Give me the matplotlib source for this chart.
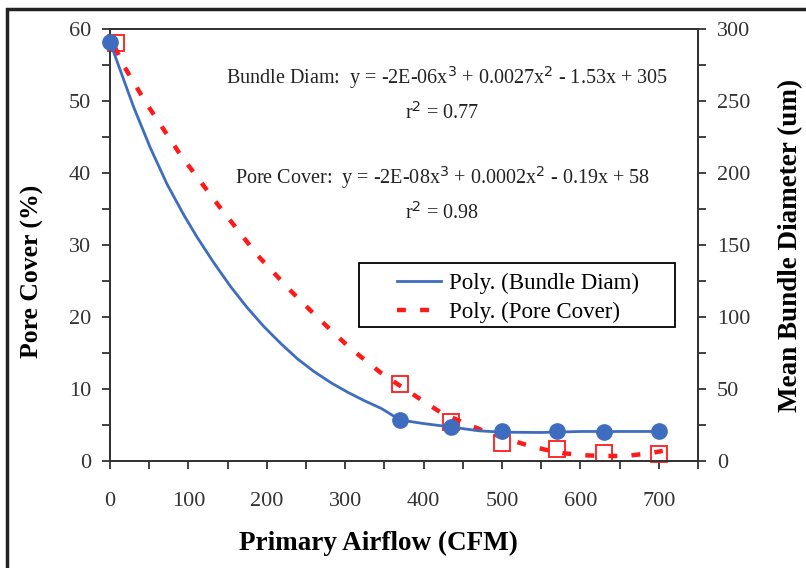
import numpy as np
import matplotlib.pyplot as plt
from matplotlib.patches import Rectangle

plt.rcParams['font.family'] = ['Liberation Serif', 'DejaVu Serif']

# measured points
bundle_x = [0, 370, 435, 500, 570, 630, 700]
bundle_y = [291, 28.5, 23.6, 20.8, 21, 20, 21]          # um, right axis
pore_x = [8, 370, 435, 500, 570, 630, 700]
pore_y = [58.1, 10.7, 5.4, 2.5, 1.7, 1.05, 0.95]        # %, left axis

# trend lines as drawn in the chart
bfit_x = [0, 30, 51, 73, 94, 111, 132, 154, 175, 196, 218, 239, 260, 282, 303, 324, 346, 370,
          400, 435, 470, 500, 550, 600, 650, 700]
bfit_y = [291, 246, 218, 192, 171, 155.5, 138, 121, 106.5, 93.5, 81.5, 71, 62.2, 54.3, 47.8, 42, 36.5, 28.5,
          26, 23.6, 21, 20, 19.8, 20.5, 20.5, 20.5]
pfit_x = [6, 17, 45, 90, 139, 188, 229, 265, 305, 346, 372, 397, 421, 449, 474, 503, 526, 554, 577,
          603, 631, 656, 684, 705]
pfit_y = [57.5, 55, 49.9, 42.5, 35.4, 28.6, 23.8, 19.9, 15.8, 12.2, 10.3, 8.5, 6.8, 5.4, 4.3, 3.2, 2.4,
          1.6, 1.1, 0.8, 0.7, 0.7, 1.0, 1.4]

blue = '#3E6DBF'
red = '#FF1A1A'
tick_col = '#333333'
W, H = 806, 568

fig = plt.figure(figsize=(W / 100, H / 100), dpi=100)
fig.patches.append(Rectangle((7 / W, -0.1), 1.2, 1 - 9 / H + 0.1, transform=fig.transFigure,
                             fill=False, edgecolor='#222222', linewidth=2.5))

ax = fig.add_axes([110 / W, 1 - 461 / H, (698 - 110) / W, (461 - 29) / H])
ax2 = ax.twinx()

ax.set_xlim(0, 750)
ax.set_ylim(0, 60)
ax2.set_ylim(0, 300)

ax.set_xticks(np.arange(0, 751, 50), minor=True)
ax.set_xticks(np.arange(0, 701, 100))
ax.set_yticks(np.arange(0, 61, 5), minor=True)
ax.set_yticks(np.arange(0, 61, 10))
ax2.set_yticks(np.arange(0, 301, 25), minor=True)
ax2.set_yticks(np.arange(0, 301, 50))

for a in (ax, ax2):
    for s in a.spines.values():
        s.set_linewidth(1.3)
        s.set_color('#333333')
    a.tick_params(which='both', direction='out', length=5.5, width=1.3, color='#333333',
                  labelsize=16, labelcolor=tick_col)
ax.tick_params(axis='x', pad=17)
ax.tick_params(axis='y', pad=8)
ax2.tick_params(axis='y', pad=8)

ax2.plot(bfit_x, bfit_y, color=blue, lw=2.0, label='Poly. (Bundle Diam)', zorder=3)
ax2.plot(bundle_x, bundle_y, 'o', color=blue, ms=11, clip_on=False, zorder=4)
ax2.plot([], [], color=red, lw=3.2, ls=(0, (2, 3.2)), label='Poly. (Pore Cover)')
ax.plot(pfit_x, pfit_y, color=red, lw=3.2, ls=(0, (2, 3.2)), zorder=3)
ax.plot(pore_x, pore_y, 's', mfc='none', mec=red, mew=1.3, ms=11, clip_on=False, zorder=4)

ax.set_ylabel('Pore Cover (%)', fontsize=18.5, fontweight='bold')
ax.yaxis.set_label_coords((32 - 110) / 588, (461 - 271) / 432)
ax.yaxis.label.set_va('center')
ax2.set_ylabel('Mean Bundle Diameter (um)', fontsize=19.5, fontweight='bold')
ax2.yaxis.set_label_coords((791 - 110) / 588, 0.5)
ax2.yaxis.label.set_va('center')
ax.set_xlabel('Primary Airflow (CFM)', fontsize=19.5, fontweight='bold')
ax.xaxis.set_label_coords((378 - 110) / 588, (461 - 543) / 432)
ax.xaxis.label.set_va('center')

kw = dict(ha='center', va='center', fontsize=14.5, color='#222222')
ax.text(430, 53.2, 'Bundle Diam:  y = -2E-06x$^3$ + 0.0027x$^2$ - 1.53x + 305', **kw)
ax.text(424, 48.3, 'r$^2$ = 0.77', **kw)
ax.text(424, 39.4, 'Pore Cover:  y = -2E-08x$^3$ + 0.0002x$^2$ - 0.19x + 58', **kw)
ax.text(424, 34.4, 'r$^2$ = 0.98', **kw)

# legend: frame drawn separately so the wide left margin can be matched
fig.patches.append(Rectangle((359 / W, 1 - 327 / H), (675 - 359) / W, (327 - 263) / H,
                             transform=fig.transFigure, fill=False, edgecolor='black',
                             linewidth=1.3, zorder=5))
leg = ax2.legend(loc='upper left', bbox_to_anchor=(397 / W, 1 - 273 / H),
                 bbox_transform=fig.transFigure, fontsize=16.5, frameon=False,
                 borderpad=0, borderaxespad=0, handlelength=1.9, handletextpad=0.35,
                 labelspacing=0.35)

fig.savefig('out.png', dpi=100)
